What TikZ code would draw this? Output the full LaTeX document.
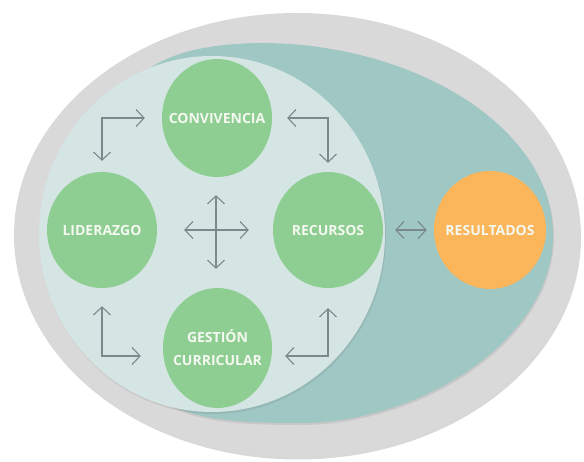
\documentclass[tikz,border=0pt]{standalone}
\usepackage{fontspec}
\setmainfont{Open Sans}
\usetikzlibrary{shapes.geometric,arrows.meta,shadows}
\definecolor{outergray}{HTML}{D9D9D9}
\definecolor{tealcol}{HTML}{9FC7C3}
\definecolor{lightcol}{HTML}{D4E5E4}
\definecolor{greencol}{HTML}{8ECE92}
\definecolor{orangecol}{HTML}{FBB55B}
\definecolor{arrowcol}{HTML}{7A8989}
\definecolor{txtcol}{HTML}{F4F8F0}
\begin{document}
\begin{tikzpicture}[x=1pt,y=-1pt,
  bgshape/.style={ellipse, draw=none, inner sep=0pt},
  greenblob/.style={ellipse, draw=none, inner sep=0pt, fill=greencol},
  lbl/.style={text=txtcol, inner sep=0pt, align=center,
    font=\bfseries\fontsize{14}{23}\selectfont},
  link/.style={draw=arrowcol, line width=1.1pt,
    {Straight Barb[length=8pt,width=17pt]}-{Straight Barb[length=8pt,width=17pt]}},
  softshadow/.style={drop shadow={shadow xshift=1pt, shadow yshift=-2.5pt, opacity=0.25, fill=black!60}},
  faintshadow/.style={drop shadow={shadow xshift=1pt, shadow yshift=-2pt, opacity=0.15, fill=black!60}}
]
\useasboundingbox (0,0) rectangle (584,462);
\fill[white] (0,0) rectangle (584,462);
% outer gray
\node[bgshape, fill=outergray, minimum width=566pt, minimum height=444pt, softshadow] (outer) at (297,235) {};
% teal egg
\path[fill=tealcol, faintshadow]
  (150,68) .. controls (180,48) and (225,43) .. (265,43)
  .. controls (420,45) and (553,130) .. (553,235)
  .. controls (553,340) and (420,423) .. (300,423)
  .. controls (240,423) and (200,420) .. (170,405)
  -- (100,300) -- (60,200) -- (90,120) -- cycle;
% light circle
\node[bgshape, fill=lightcol, minimum width=346pt, minimum height=356pt, faintshadow] (inner) at (212,234) {};
% circles
\node[greenblob, minimum width=110pt, minimum height=118pt,
  label={[lbl]center:CONVIVENCIA}] (conv) at (217,118) {};
\node[greenblob, minimum width=110pt, minimum height=116pt,
  label={[lbl]center:LIDERAZGO}] (lid) at (102,230) {};
\node[greenblob, minimum width=110pt, minimum height=116pt,
  label={[lbl]center:RECURSOS}] (rec) at (328,230) {};
\node[greenblob, minimum width=109pt, minimum height=120pt,
  label={[lbl]center:{GESTIÓN\\CURRICULAR}}] (ges) at (217.5,348) {};
\node[ellipse, draw=none, inner sep=0pt, fill=orangecol, minimum width=112pt, minimum height=118pt,
  label={[lbl]center:RESULTADOS}] (res) at (490,230) {};
% connectors
\draw[link, shorten <=17pt, shorten >=11pt] (conv.west) -| (lid.north);
\draw[link, shorten <=15pt, shorten >=9pt] (conv.east) -| (rec.north);
\draw[link, shorten <=18pt, shorten >=22pt] (lid.south) |- ([yshift=-8pt]ges.west);
\draw[link, shorten <=20pt, shorten >=13pt] (rec.south) |- ([yshift=-8pt]ges.east);
\draw[link, shorten <=27pt, shorten >=24pt] (lid.east) -- (rec.west);
\draw[link, shorten <=18pt, shorten >=19pt] ([xshift=-1pt]conv.south) -- ([xshift=-1.5pt]ges.north);
\draw[link, shorten <=12pt, shorten >=7pt] (rec.east) -- (res.west);
\end{tikzpicture}
\end{document}
